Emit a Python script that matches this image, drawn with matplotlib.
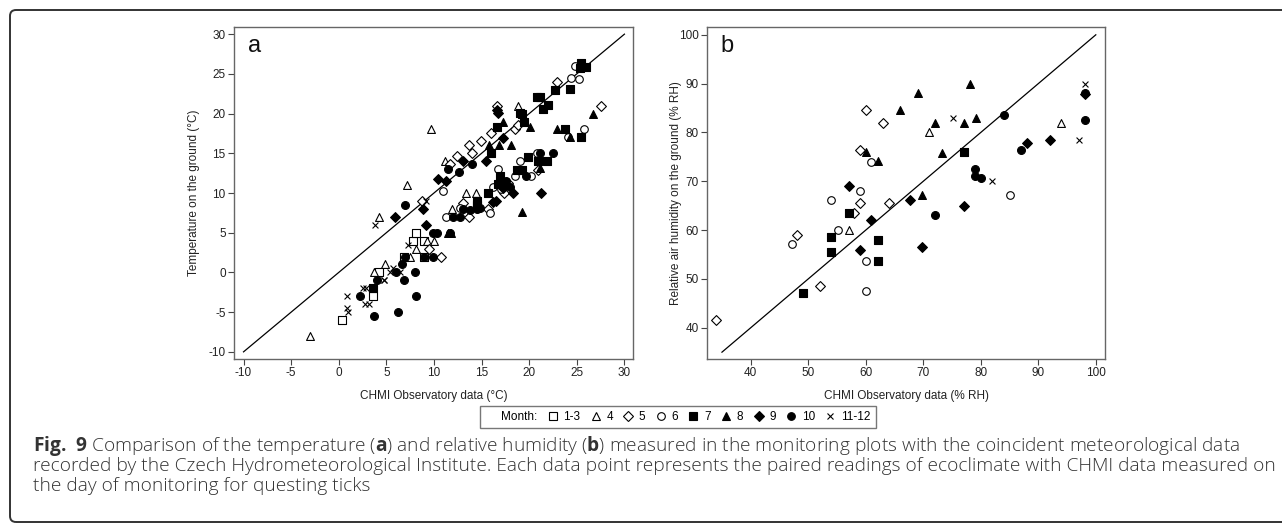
import matplotlib
matplotlib.use('Agg')
import matplotlib.pyplot as plt
from matplotlib.lines import Line2D
from matplotlib.patches import FancyBboxPatch
from matplotlib.transforms import IdentityTransform

plt.rcParams['font.family'] = ['Liberation Sans', 'DejaVu Sans']
plt.rcParams['axes.unicode_minus'] = False
plt.rcParams['mathtext.fontset'] = 'custom'
plt.rcParams['mathtext.rm'] = 'Open Sans'
plt.rcParams['mathtext.bf'] = 'Open Sans:bold'

# ---- panel a: temperature (CHMI x, ground y) ----
a_m13_x = [0.3, 3.6, 4.2, 6.8, 7.8, 8.9, 8.1, 9.0]
a_m13_y = [-6, -3, 0, 2, 4, 4, 5, 2]
a_m4_x = [-3, 3.7, 4.9, 7.5, 8.1, 10.0, 9.3, 4.2, 7.2, 9.7, 11.2, 11.9, 13.4, 14.4, 18.8]
a_m4_y = [-8, 0, 1, 2, 3, 4, 4, 7, 11, 18, 14, 8, 10, 10, 21]
a_m5_x = [8.7, 10.7, 9.5, 11.7, 12.4, 13.7, 14.0, 14.9, 16.0, 16.6, 18.5, 18.8, 22.9, 27.5,
          13.7, 15.7, 13.0, 17.4, 17.8, 20.9]
a_m5_y = [9, 2, 3, 13.6, 14.6, 16, 15, 16.5, 17.5, 21, 18, 18.5, 24, 21,
          7, 8, 8.7, 10, 11.2, 12.9]
a_m6_x = [10.9, 11.3, 15.9, 16.7, 16.2, 19.0, 20.8, 18.5, 20.2, 24.4, 25.2, 24.8, 24.1, 25.8, 12.7, 17.0]
a_m6_y = [10.3, 7, 7.5, 13, 10.8, 14, 15, 12.1, 12.1, 24.5, 24.3, 26, 17, 18, 8.1, 10.5]
a_m7_x = [3.6, 14.5, 14.5, 15.7, 16.0, 16.6, 19.0, 19.2, 19.5, 20.8, 21.1, 21.5, 22.0, 22.7,
          24.3, 25.4, 26.0, 25.3, 23.8, 25.4, 16.9, 16.7, 18.7, 19.2, 19.9, 20.9, 21.9]
a_m7_y = [-2, 9, 8.5, 10, 15, 18.3, 20.1, 19.9, 19, 22.1, 22.1, 20.6, 21.1, 23,
          23.1, 26.4, 25.9, 25.7, 18, 17, 12.1, 11.1, 12.9, 12.9, 14.5, 14, 14]
a_m8_x = [11.5, 11.8, 15.8, 17.3, 16.8, 18.1, 20.1, 22.9, 24.3, 26.7, 21.1, 19.2]
a_m8_y = [5, 5, 16, 19, 16, 16, 18.3, 18.1, 17, 20, 13.1, 7.6]
a_m9_x = [5.9, 8.8, 9.2, 10.4, 11.3, 13.1, 15.5, 16.6, 16.7, 17.3, 16.5, 18.3, 21.2, 17.1, 17.3, 16.2]
a_m9_y = [7, 8, 6, 11.75, 11.5, 14, 14, 20.5, 20.1, 16.9, 9, 10, 10, 11.2, 10.6, 8.9]
a_m10_x = [2.2, 3.7, 6.2, 8.1, 6.9, 8.0, 6.0, 4.0, 6.6, 7.0, 8.9, 9.9, 9.9, 10.3, 11.7, 7.0,
           12.0, 12.7, 11.5, 12.6, 14.0, 14.5, 13.1, 13.8, 14.8, 17.6, 18.0, 19.7, 21.1, 22.5]
a_m10_y = [-3, -5.5, -5, -3, -1, 0, 0, -1, 1, 2, 2, 2, 5, 5, 5, 8.5,
           7, 7, 13, 12.6, 13.6, 8, 8, 7.9, 8.1, 11.5, 10.8, 12.1, 15, 15]
a_m1112_x = [0.9, 0.9, 1.0, 2.8, 3.2, 2.5, 2.9, 4.8, 5.4, 6.4, 5.7, 7.3, 3.8, 9.2, 4.7]
a_m1112_y = [-3, -4.5, -5, -4, -4, -2, -2, -1, 0, 0, 0.5, 3.5, 6, 9, -0.9]

# ---- panel b: relative humidity ----
b_m13_x, b_m13_y = [], []
b_m4_x = [57.1, 71.0, 94.0]
b_m4_y = [60.1, 80.1, 82.0]
b_m5_x = [34.0, 48.1, 52.0, 58.0, 59.0, 59.0, 60.1, 63.0, 64.0]
b_m5_y = [41.5, 59.0, 48.5, 63.5, 65.5, 76.5, 84.5, 81.9, 65.5]
b_m6_x = [47.1, 54.0, 55.1, 59.0, 60.1, 60.1, 61.0, 85.1]
b_m6_y = [57.1, 66.1, 60.1, 68.1, 53.6, 47.6, 74.0, 67.1]
b_m7_x = [49.1, 54.0, 54.0, 57.1, 62.1, 62.1, 77.0]
b_m7_y = [47.2, 55.6, 58.5, 63.5, 57.9, 53.6, 76.0]
b_m8_x = [60.1, 62.1, 66.0, 69.1, 69.7, 72.0, 73.2, 77.0, 78.1, 79.1]
b_m8_y = [76.1, 74.1, 84.5, 88.1, 67.1, 82.0, 75.7, 82.0, 90.0, 83.0]
b_m9_x = [57.1, 59.0, 61.0, 67.7, 69.7, 77.0, 88.1, 92.0, 98.1]
b_m9_y = [69.1, 56.0, 62.1, 66.1, 56.6, 65.0, 77.9, 78.5, 87.9]
b_m10_x = [72.0, 79.0, 79.0, 80.1, 84.0, 87.0, 98.1, 98.1]
b_m10_y = [63.1, 72.6, 71.1, 70.6, 83.5, 76.5, 88.1, 82.5]
b_m1112_x = [75.2, 82.0, 97.0, 98.1]
b_m1112_y = [83.0, 70.0, 78.5, 90.0]

months = ['1-3', '4', '5', '6', '7', '8', '9', '10', '11-12']
styles = [('s', 'white', 30), ('^', 'white', 32), ('D', 'white', 25), ('o', 'white', 30),
          ('s', 'black', 30), ('^', 'black', 32), ('D', 'black', 25), ('o', 'black', 32),
          ('x', 'black', 18)]

a_sets = [(a_m13_x, a_m13_y), (a_m4_x, a_m4_y), (a_m5_x, a_m5_y), (a_m6_x, a_m6_y),
          (a_m7_x, a_m7_y), (a_m8_x, a_m8_y), (a_m9_x, a_m9_y), (a_m10_x, a_m10_y),
          (a_m1112_x, a_m1112_y)]
b_sets = [(b_m13_x, b_m13_y), (b_m4_x, b_m4_y), (b_m5_x, b_m5_y), (b_m6_x, b_m6_y),
          (b_m7_x, b_m7_y), (b_m8_x, b_m8_y), (b_m9_x, b_m9_y), (b_m10_x, b_m10_y),
          (b_m1112_x, b_m1112_y)]

W, H = 1282, 523
fig = plt.figure(figsize=(W / 100, H / 100), dpi=100)
axa = fig.add_axes([234 / W, 1 - 359 / H, 399 / W, 332 / H])
axb = fig.add_axes([707 / W, 1 - 359 / H, 398 / W, 332 / H])


def draw(ax, sets, lim, xlim, ylim, ticks, letter, xlabel, ylabel, ypad):
    ax.plot(lim, lim, color='black', lw=0.9, zorder=1)
    for (xs, ys), (mk, fc, s) in zip(sets, styles):
        if not xs:
            continue
        if mk == 'x':
            ax.scatter(xs, ys, marker=mk, s=s, color='black', linewidths=0.8, zorder=3)
        else:
            ax.scatter(xs, ys, marker=mk, s=s, facecolor=fc, edgecolor='black',
                       linewidths=0.8, zorder=3)
    ax.set_xlim(xlim)
    ax.set_ylim(ylim)
    ax.set_xticks(ticks[0])
    ax.set_yticks(ticks[1])
    for sp in ax.spines.values():
        sp.set_color('#666666')
        sp.set_linewidth(1.0)
    ax.tick_params(length=4, width=0.8, color='#444444', labelsize=8.5, pad=2,
                   labelcolor='#222222')
    ax.set_xlabel(xlabel, fontsize=8.5, color='#222222', labelpad=8)
    ax.set_ylabel(ylabel, fontsize=8.5, color='#222222', labelpad=ypad)
    ax.text(0.035, 0.975, letter, transform=ax.transAxes, fontsize=17,
            ha='left', va='top', color='#111111')


draw(axa, a_sets, [-10, 30], (-11, 30.9), (-10.9, 30.9),
     (range(-10, 31, 5), range(-10, 31, 5)), 'a',
     'CHMI Observatory data (°C)', 'Temperature on the ground (°C)', 6)
draw(axb, b_sets, [35, 100], (32.4, 101.6), (33.6, 101.6),
     (range(40, 101, 10), range(40, 101, 10)), 'b',
     'CHMI Observatory data (% RH)', 'Relative air humidity on the ground (% RH)', -2)

# legend
handles = [Line2D([], [], linestyle='none', marker=None)]
labels = ['Month:']
for (mk, fc, s), m in zip(styles, months):
    if mk == 'x':
        h = Line2D([], [], linestyle='none', marker='x', color='black', markersize=4.5,
                   markeredgewidth=0.8)
    else:
        h = Line2D([], [], linestyle='none', marker=mk, markerfacecolor=fc,
                   markeredgecolor='black', markersize=5.5 if mk != 'D' else 5,
                   markeredgewidth=0.8)
    handles.append(h)
    labels.append(m)
leg = fig.legend(handles, labels, loc='center', bbox_to_anchor=(678 / W, 1 - 417 / H),
                 ncol=10, fontsize=8.5, frameon=True, fancybox=False,
                 handlelength=0.8, handletextpad=0.5, columnspacing=0.9,
                 borderpad=0.45, edgecolor='#555555')
leg.get_frame().set_linewidth(1.0)

# figure frame
frame = FancyBboxPatch((10, 1), 1300, 512, boxstyle='round,pad=0,rounding_size=6',
                       transform=IdentityTransform(), fill=False, edgecolor='#333333',
                       linewidth=1.4)
fig.add_artist(frame)

cap = [r'$\mathbf{Fig.\ 9}$ Comparison of the temperature ($\mathbf{a}$) and relative humidity '
       r'($\mathbf{b}$) measured in the monitoring plots with the coincident meteorological data',
       'recorded by the Czech Hydrometeorological Institute. Each data point represents the paired '
       'readings of ecoclimate with CHMI data measured on',
       'the day of monitoring for questing ticks']
for i, line in enumerate(cap):
    fig.text(33 / W, 1 - (451 + 20 * i) / H, line, fontsize=13.8, family='Open Sans',
             fontweight='light', ha='left', va='baseline', color='#333333')

fig.savefig('out.png', dpi=100)
